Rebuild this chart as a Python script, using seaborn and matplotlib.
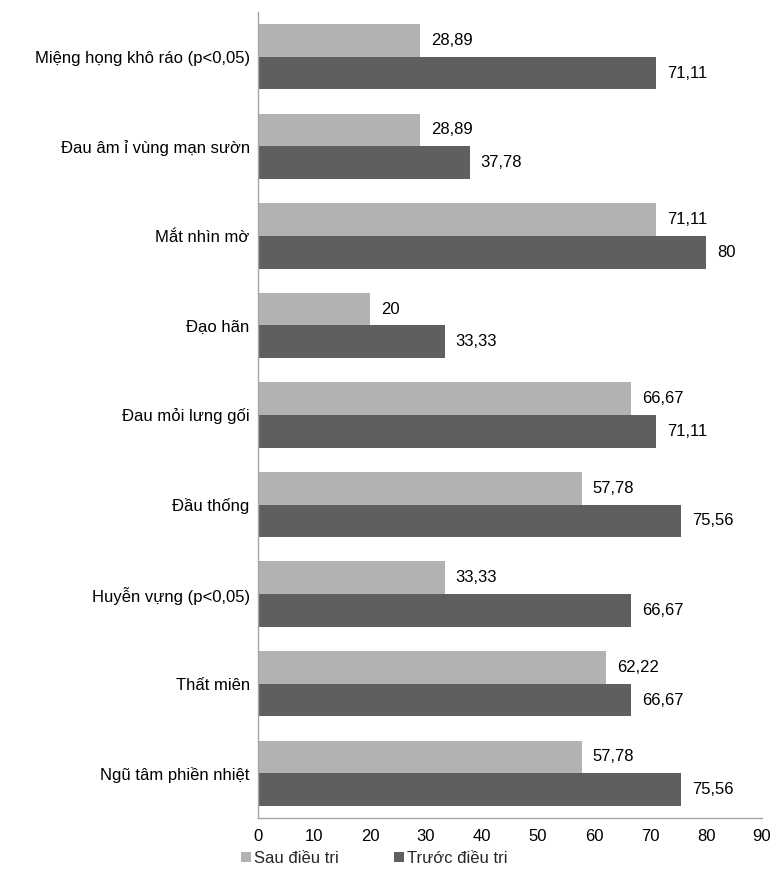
import matplotlib
matplotlib.use("Agg")
import matplotlib.pyplot as plt
import seaborn as sns
import pandas as pd
from matplotlib.patches import Patch

categories = [
    "Miệng họng khô ráo (p<0,05)",
    "Đau âm ỉ vùng mạn sườn",
    "Mắt nhìn mờ",
    "Đạo hãn",
    "Đau mỏi lưng gối",
    "Đầu thống",
    "Huyễn vựng (p<0,05)",
    "Thất miên",
    "Ngũ tâm phiền nhiệt",
]
sau = [28.89, 28.89, 71.11, 20, 66.67, 57.78, 33.33, 62.22, 57.78]
truoc = [71.11, 37.78, 80, 33.33, 71.11, 75.56, 66.67, 66.67, 75.56]
series = ["Sau điều tri", "Trước điều tri"]
colors = ["#b2b2b2", "#5f5f5f"]
xticks = [0, 10, 20, 30, 40, 50, 60, 70, 80, 90]

df = pd.DataFrame({
    "cat": categories * 2,
    "val": sau + truoc,
    "series": [series[0]] * len(categories) + [series[1]] * len(categories),
})

sns.set_theme(style="white")
plt.rcParams["font.family"] = ["Liberation Sans", "DejaVu Sans"]

FS = 12

fig = plt.figure(figsize=(7.73, 8.81), dpi=100)
ax = fig.add_axes([0.3338, 0.0715, 0.652, 0.9149])
sns.barplot(data=df, y="cat", x="val", hue="series", order=categories,
            hue_order=series, palette=colors, orient="h", width=0.73,
            saturation=1, ax=ax, legend=False, linewidth=0, edgecolor="none")

def fmt(v):
    if float(v).is_integer():
        return str(int(v))
    return f"{v:.2f}".replace(".", ",")

for cont in ax.containers:
    ax.bar_label(cont, labels=[fmt(b.get_width()) for b in cont], padding=8,
                 fontsize=FS, color="#000000")

ax.set_xlim(0, 90)
ax.set_xticks(xticks)
ax.set_xticklabels([str(t) for t in xticks])
ax.set_xlabel("")
ax.set_ylabel("")
ax.tick_params(axis="both", length=0, labelsize=FS, colors="#000000")
ax.tick_params(axis="y", pad=6)
ax.tick_params(axis="x", pad=8)
for s in ["top", "right"]:
    ax.spines[s].set_visible(False)
for s in ["left", "bottom"]:
    ax.spines[s].set_color("#a6a6a6")
    ax.spines[s].set_linewidth(1)

handles = [Patch(facecolor=c, edgecolor="none") for c in colors]
fig.legend(handles, series, loc="lower left", bbox_to_anchor=(0.292, 0.0),
           ncol=2, frameon=False, fontsize=FS, handlelength=0.6,
           handleheight=0.6, handletextpad=0.2, columnspacing=3.3)

fig.savefig("out.png", dpi=100)
